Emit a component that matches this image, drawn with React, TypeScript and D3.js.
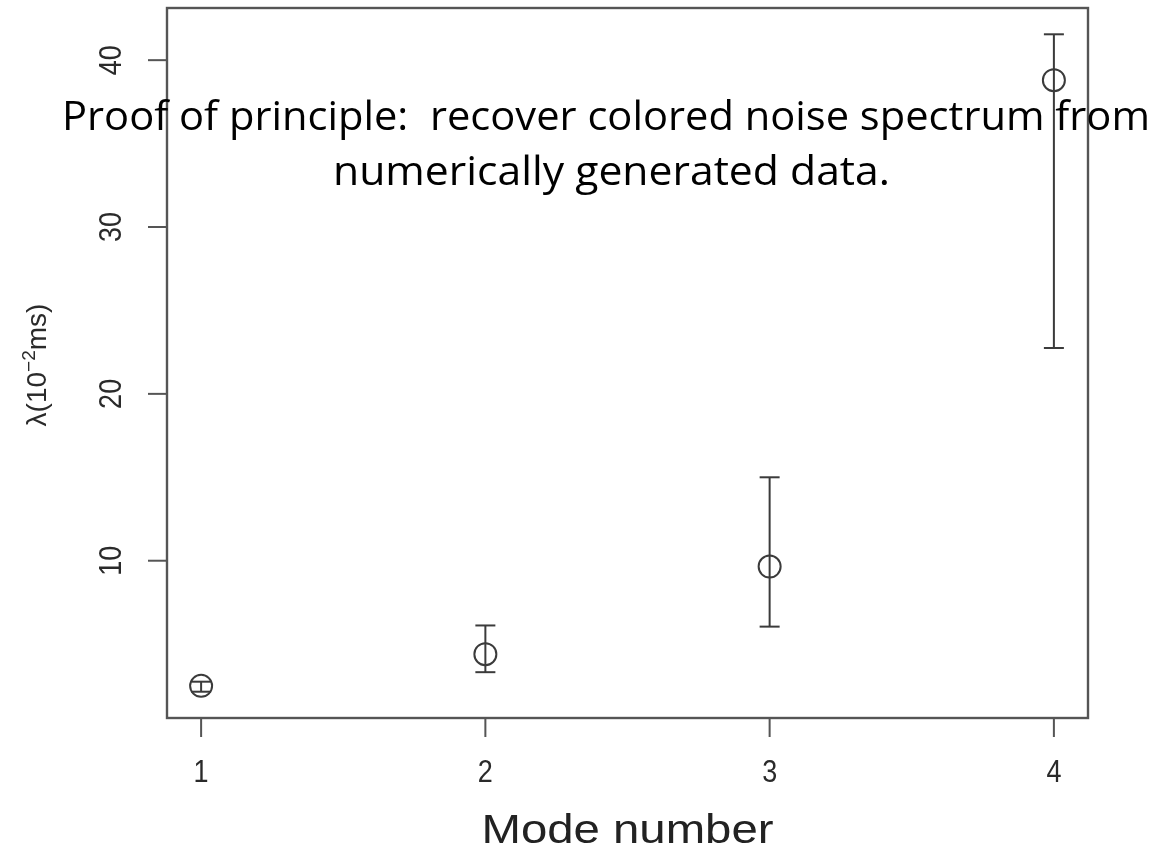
import React from "react";
import * as d3 from "d3";

// Mode numbers and the fitted relaxation time with its interval (units of 1e-2 ms)
const modes = [1, 2, 3, 4];
const lambdaValues = [2.5, 4.4, 9.65, 38.8];
const lowerValues = [2.15, 3.32, 6.05, 22.75];
const upperValues = [2.75, 6.12, 15.0, 41.55];
const yTicks = [10, 20, 30, 40];
const xTicks = [1, 2, 3, 4];
const titleLines = [
  "Proof of principle:  recover colored noise spectrum from",
  "numerically generated data.",
];

const W = 1158;
const H = 851;
const plot = { left: 167, right: 1088, top: 8, bottom: 718 };

// R-style 4% padding around the data range
function padded(lo: number, hi: number): [number, number] {
  const e = (hi - lo) * 0.04;
  return [lo - e, hi + e];
}

export default function App() {
  const x = d3
    .scaleLinear()
    .domain(padded(d3.min(modes)!, d3.max(modes)!))
    .range([plot.left, plot.right]);
  const y = d3
    .scaleLinear()
    .domain(padded(d3.min(lowerValues)!, d3.max(upperValues)!))
    .range([plot.bottom, plot.top]);

  const ink = "#3a3a3a";
  const axisFont = "'Liberation Sans', Arial, Helvetica, sans-serif";
  const cap = 10;

  return (
    <svg
      width={W}
      height={H}
      viewBox={`0 0 ${W} ${H}`}
      style={{ position: "absolute", left: 0, top: 0, background: "#fff" }}
    >
      <defs>
        <filter id="soft" x="-5%" y="-5%" width="110%" height="110%">
          <feGaussianBlur stdDeviation="0.55" />
        </filter>
      </defs>
      <rect x={0} y={0} width={W} height={H} fill="#fff" />
      <g filter="url(#soft)">
        {/* plot frame */}
        <rect
          x={plot.left}
          y={plot.top}
          width={plot.right - plot.left}
          height={plot.bottom - plot.top}
          fill="none"
          stroke="#555"
          strokeWidth={2.4}
        />
        {/* y axis ticks and labels */}
        {yTicks.map((t) => (
          <g key={`y${t}`}>
            <line
              x1={plot.left - 19}
              x2={plot.left}
              y1={y(t)}
              y2={y(t)}
              stroke="#555"
              strokeWidth={2}
            />
            <text
              transform={`translate(121,${y(t)}) rotate(-90) scale(1,1.15)`}
              textAnchor="middle"
              fontFamily={axisFont}
              fontSize={27}
              fill="#2a2a2a"
            >
              {t}
            </text>
          </g>
        ))}
        {/* x axis ticks and labels */}
        {xTicks.map((t) => (
          <g key={`x${t}`}>
            <text
              transform={`translate(${x(t)},782) scale(1,1.15)`}
              textAnchor="middle"
              fontFamily={axisFont}
              fontSize={27}
              fill="#2a2a2a"
            >
              {t}
            </text>
            <line
              x1={x(t)}
              x2={x(t)}
              y1={plot.bottom}
              y2={plot.bottom + 19}
              stroke="#555"
              strokeWidth={2}
            />
          </g>
        ))}
        {/* axis titles */}
        <text
          x={(plot.left + plot.right) / 2}
          y={843}
          textAnchor="middle"
          fontFamily={axisFont}
          fontSize={40}
          fill="#222"
          textLength={292}
          lengthAdjust="spacingAndGlyphs"
        >
          Mode number
        </text>
        <text
          transform="translate(46,365) rotate(-90)"
          textAnchor="middle"
          fontFamily={axisFont}
          fontSize={28}
          fill="#2a2a2a"
        >
          λ(10
          <tspan fontSize={19} dy={-11}>
            −2
          </tspan>
          <tspan dy={11}>ms)</tspan>
        </text>
        {/* error bars and point estimates */}
        {modes.map((m, i) => (
          <g key={`m${m}`} stroke={ink} fill="none">
            <line
              x1={x(m)}
              x2={x(m)}
              y1={y(lowerValues[i])}
              y2={y(upperValues[i])}
              strokeWidth={2}
            />
            <line
              x1={x(m) - cap}
              x2={x(m) + cap}
              y1={y(upperValues[i])}
              y2={y(upperValues[i])}
              strokeWidth={2}
            />
            <line
              x1={x(m) - cap}
              x2={x(m) + cap}
              y1={y(lowerValues[i])}
              y2={y(lowerValues[i])}
              strokeWidth={2}
            />
            <circle cx={x(m)} cy={y(lambdaValues[i])} r={11} strokeWidth={2} />
          </g>
        ))}
      </g>
      {/* overlaid caption */}
      <text
        x={62}
        y={130}
        fontFamily="'Open Sans', 'Noto Sans', sans-serif"
        fontSize={41}
        fill="#000"
        textLength={1088}
        lengthAdjust="spacingAndGlyphs"
        style={{ whiteSpace: "pre" }}
      >
        {titleLines[0]}
      </text>
      <text
        x={333}
        y={185}
        fontFamily="'Open Sans', 'Noto Sans', sans-serif"
        fontSize={41}
        fill="#000"
        textLength={557}
        lengthAdjust="spacingAndGlyphs"
      >
        {titleLines[1]}
      </text>
    </svg>
  );
}
